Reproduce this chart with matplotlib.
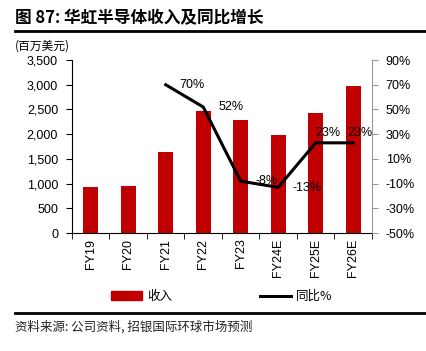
import matplotlib.pyplot as plt
from matplotlib.lines import Line2D
from matplotlib.patches import Patch
import numpy as np

plt.rcParams['font.family'] = ['Liberation Sans', 'Noto Sans CJK SC', 'DejaVu Sans']
cjk = ['Noto Sans CJK SC', 'DejaVu Sans']

years = ['FY19', 'FY20', 'FY21', 'FY22', 'FY23', 'FY24E', 'FY25E', 'FY26E']
revenue = [930, 960, 1630, 2475, 2285, 1975, 2430, 2970]
yoy_years = ['FY21', 'FY22', 'FY23', 'FY24E', 'FY25E', 'FY26E']
yoy = [70, 52, -8, -13, 23, 23]
yoy_labels = ['70%', '52%', '-8%', '-13%', '23%', '23%']

red = '#C00000'

fig = plt.figure(figsize=(4.26, 3.51), dpi=100)
ax = fig.add_axes([0.169, 0.336, 0.704, 0.493])
x = np.arange(len(years))
ax.bar(x, revenue, width=0.4, color=red, zorder=2)
ax.set_xlim(-0.5, len(years) - 0.5)
ax.set_ylim(0, 3500)
ax.set_yticks(np.arange(0, 3501, 500))
ax.set_yticklabels([f'{v:,}' for v in range(0, 3501, 500)], fontsize=9)
ax.set_xticks(x)
ax.set_xticklabels(years, rotation=90, fontsize=9)
ax.tick_params(axis='x', length=0, pad=4)
ax.set_xticks(np.arange(-0.5, len(years)), minor=True)
ax.tick_params(axis='x', which='minor', length=4, direction='out')
ax.tick_params(axis='y', length=4, direction='out', pad=6)
ax.spines['top'].set_visible(False)
ax.spines['right'].set_visible(False)

ax2 = ax.twinx()
xi = [years.index(y) for y in yoy_years]
ax2.plot(xi, yoy, color='black', lw=2.2, zorder=3)
ax2.set_ylim(-50, 90)
ax2.set_yticks(np.arange(-50, 91, 20))
ax2.set_yticklabels([f'{v}%' for v in range(-50, 91, 20)], fontsize=9)
ax2.tick_params(axis='y', length=4, color='#999999', pad=6)
ax2.spines['right'].set_color('#999999')
ax2.spines['top'].set_visible(False)
ax2.spines['left'].set_visible(False)
ax2.spines['bottom'].set_visible(False)
offsets = [(14, 0), (15, 0), (15, 0), (14, -1), (0, 10), (-6, 10)]
for xv, yv, lab, (dx, dy) in zip(xi, yoy, yoy_labels, offsets):
    ax2.annotate(lab, (xv, yv), xytext=(dx, dy), textcoords='offset pixels',
                 ha='left', va='center', fontsize=9)

fig.text(0.035, 0.948, '图 87: 华虹半导体收入及同比增长', fontsize=12, fontweight='bold',
         family=cjk, va='center')
fig.add_artist(Line2D([0.035, 0.998], [0.912, 0.912], color='black', lw=2))
fig.text(0.035, 0.868, '(百万美元)', fontsize=8.5, family=cjk, va='center')

handles = [Patch(color=red), Line2D([0], [0], color='black', lw=2.2)]
fig.legend(handles, ['收入', '同比%'], loc='center', bbox_to_anchor=(0.52, 0.155),
           ncol=2, frameon=False, prop={'family': cjk, 'size': 9},
           handlelength=2.5, columnspacing=7, handletextpad=0.4)

fig.add_artist(Line2D([0.035, 0.998], [0.108, 0.108], color='black', lw=2))
fig.text(0.035, 0.068, '资料来源: 公司资料, 招银国际环球市场预测', fontsize=9,
         family=cjk, va='center', color='#222222')

fig.savefig('out.png', dpi=100)
